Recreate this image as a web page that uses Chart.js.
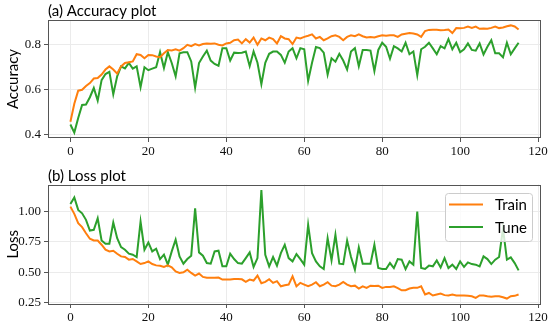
<!DOCTYPE html>
<html>
<head>
<meta charset="utf-8">
<script src="https://cdn.jsdelivr.net/npm/chart.js@4.4.1/dist/chart.umd.min.js"></script>
<style>
  html, body { margin: 0; padding: 0; background: #fff; }
  #wrap { position: relative; width: 550px; height: 324px; }
  .box { position: absolute; left: 0; width: 550px; height: 162px; }
</style>
</head>
<body>
<div id="wrap">
  <div class="box" style="top:0"><canvas id="acc"></canvas></div>
  <div class="box" style="top:162px"><canvas id="loss"></canvas></div>
</div>
<script>
// values, one per epoch
const trainAcc = [
  0.458, 0.538, 0.596, 0.600, 0.617, 0.630, 0.650, 0.652, 0.668, 0.690,
  0.704, 0.690, 0.672, 0.704, 0.719, 0.722, 0.726, 0.758, 0.755, 0.740,
  0.755, 0.754, 0.748, 0.745, 0.762, 0.777, 0.775, 0.780, 0.774, 0.785,
  0.800, 0.794, 0.803, 0.797, 0.803, 0.806, 0.805, 0.806, 0.800, 0.797,
  0.806, 0.809, 0.820, 0.823, 0.806, 0.825, 0.810, 0.832, 0.800, 0.828,
  0.820, 0.832, 0.825, 0.806, 0.838, 0.828, 0.825, 0.803, 0.832, 0.828,
  0.835, 0.840, 0.846, 0.828, 0.835, 0.820, 0.828, 0.838, 0.842, 0.835,
  0.820, 0.835, 0.842, 0.838, 0.846, 0.838, 0.832, 0.834, 0.832, 0.838,
  0.842, 0.840, 0.842, 0.842, 0.835, 0.846, 0.849, 0.852, 0.850, 0.846,
  0.835, 0.861, 0.866, 0.867, 0.867, 0.865, 0.866, 0.868, 0.852, 0.874,
  0.873, 0.875, 0.881, 0.875, 0.881, 0.871, 0.872, 0.871, 0.875, 0.881,
  0.874, 0.877, 0.882, 0.886, 0.881, 0.868
];
const tuneAcc = [
  0.446, 0.410, 0.475, 0.533, 0.535, 0.567, 0.608, 0.552, 0.643, 0.670,
  0.680, 0.580, 0.660, 0.704, 0.695, 0.719, 0.694, 0.704, 0.612, 0.700,
  0.687, 0.694, 0.700, 0.767, 0.697, 0.767, 0.719, 0.660, 0.762, 0.767,
  0.767, 0.726, 0.610, 0.719, 0.748, 0.774, 0.730, 0.715, 0.707, 0.785,
  0.785, 0.730, 0.765, 0.763, 0.765, 0.770, 0.705, 0.770, 0.720, 0.625,
  0.720, 0.760, 0.770, 0.770, 0.755, 0.720, 0.770, 0.785, 0.740, 0.785,
  0.780, 0.640, 0.720, 0.790, 0.785, 0.765, 0.668, 0.740, 0.725, 0.760,
  0.730, 0.690, 0.770, 0.785, 0.705, 0.777, 0.777, 0.774, 0.683, 0.777,
  0.809, 0.791, 0.738, 0.794, 0.784, 0.770, 0.809, 0.758, 0.770, 0.665,
  0.780, 0.791, 0.809, 0.784, 0.758, 0.794, 0.784, 0.825, 0.780, 0.809,
  0.767, 0.780, 0.806, 0.777, 0.774, 0.806, 0.757, 0.791, 0.820, 0.762,
  0.762, 0.744, 0.809, 0.758, 0.784, 0.809
];
const trainLoss = [
  1.041, 0.981, 0.904, 0.872, 0.822, 0.776, 0.762, 0.762, 0.727, 0.686,
  0.672, 0.677, 0.653, 0.631, 0.626, 0.604, 0.610, 0.590, 0.568, 0.576,
  0.590, 0.568, 0.557, 0.554, 0.544, 0.557, 0.541, 0.508, 0.495, 0.500,
  0.522, 0.495, 0.473, 0.490, 0.462, 0.455, 0.455, 0.455, 0.457, 0.440,
  0.440, 0.440, 0.445, 0.445, 0.442, 0.421, 0.440, 0.432, 0.473, 0.410,
  0.421, 0.443, 0.413, 0.427, 0.385, 0.393, 0.399, 0.467, 0.385, 0.413,
  0.399, 0.385, 0.399, 0.418, 0.385, 0.399, 0.418, 0.390, 0.385, 0.399,
  0.421, 0.399, 0.385, 0.390, 0.366, 0.385, 0.372, 0.390, 0.388, 0.390,
  0.372, 0.380, 0.380, 0.385, 0.370, 0.352, 0.352, 0.366, 0.372, 0.372,
  0.385, 0.317, 0.330, 0.309, 0.317, 0.325, 0.312, 0.309, 0.317, 0.309,
  0.309, 0.309, 0.306, 0.303, 0.290, 0.309, 0.309, 0.303, 0.298, 0.303,
  0.303, 0.295, 0.284, 0.303, 0.306, 0.317
];
const tuneLoss = [
  1.063, 1.117, 1.014, 0.986, 0.932, 0.844, 0.850, 0.945, 0.762, 0.735,
  0.735, 0.910, 0.781, 0.708, 0.686, 0.653, 0.645, 0.626, 0.918, 0.686,
  0.746, 0.672, 0.694, 0.609, 0.645, 0.563, 0.672, 0.768, 0.631, 0.571,
  0.609, 0.637, 1.027, 0.664, 0.637, 0.576, 0.571, 0.672, 0.678, 0.549,
  0.549, 0.653, 0.609, 0.576, 0.571, 0.617, 0.664, 0.544, 0.617, 1.178,
  0.645, 0.549, 0.626, 0.555, 0.658, 0.727, 0.617, 0.590, 0.650, 0.609,
  0.563, 0.891, 0.658, 0.590, 0.549, 0.527, 0.781, 0.598, 0.809, 0.571,
  0.568, 0.762, 0.626, 0.522, 0.705, 0.571, 0.571, 0.571, 0.727, 0.535,
  0.527, 0.527, 0.576, 0.535, 0.609, 0.604, 0.527, 0.590, 0.563, 1.000,
  0.535, 0.527, 0.555, 0.549, 0.598, 0.540, 0.617, 0.535, 0.563, 0.527,
  0.590, 0.544, 0.582, 0.568, 0.563, 0.549, 0.631, 0.609, 0.568, 0.604,
  0.626, 0.860, 0.604, 0.623, 0.576, 0.516
];
const epochs = Array.from({ length: trainAcc.length }, (_, i) => i);

const accTicks  = [0.4, 0.6, 0.8];
const lossTicks = [0.25, 0.50, 0.75, 1.00];
const xTicks    = [0, 20, 40, 60, 80, 100, 120];
const seriesNames = ["Train", "Tune"];

const ORANGE = "#ff7f0e";
const GREEN  = "#2ca02c";
const SERIF  = "'Liberation Serif', 'DejaVu Serif', serif";
const SANS   = "Lato, 'DejaVu Sans', sans-serif";

// axes box + panel title, drawn on top of the lines like matplotlib spines
const framePlugin = {
  id: "frame",
  afterDatasetsDraw(chart, args, opts){
    const { ctx, chartArea: a } = chart;
    ctx.save();
    ctx.strokeStyle = "#555";
    ctx.lineWidth = 1;
    ctx.strokeRect(Math.round(a.left) + 0.5, Math.round(a.top) + 0.5,
                   Math.round(a.right - a.left) - 1, Math.round(a.bottom - a.top) - 1);
    ctx.fillStyle = "#000";
    ctx.font = `15px ${SANS}`;
    ctx.textBaseline = "alphabetic";
    ctx.fillText(opts.title, a.left, a.top - 4);
    ctx.restore();
  }
};

// boxed legend inside the plot, upper right
const boxLegend = {
  id: "boxLegend",
  afterDatasetsDraw(chart, args, opts){
    if (!opts.show) return;
    const { ctx, chartArea: a } = chart;
    const w = 87, h = 48;
    const x = a.right - 9 - w, y = a.top + 8.5;
    ctx.save();
    ctx.beginPath();
    ctx.roundRect(x + 0.5, y + 0.5, w, h, 3);
    ctx.fillStyle = "rgba(255,255,255,0.8)";
    ctx.fill();
    ctx.strokeStyle = "#cccccc";
    ctx.lineWidth = 1;
    ctx.stroke();
    ctx.font = `15px ${SANS}`;
    ctx.textBaseline = "middle";
    chart.data.datasets.forEach((ds, k) => {
      const ly = y + 11.5 + k * 22.5;
      ctx.strokeStyle = ds.borderColor;
      ctx.lineWidth = 2;
      ctx.beginPath();
      ctx.moveTo(x + 4, ly);
      ctx.lineTo(x + 38, ly);
      ctx.stroke();
      ctx.fillStyle = "#000";
      ctx.fillText(ds.label, x + 50, ly + 1);
    });
    ctx.restore();
  }
};

function makeChart(id, cfg){
  const grid = { color: "#ebebeb", lineWidth: 1, tickColor: "#555", tickLength: 4 };
  return new Chart(document.getElementById(id), {
    type: "line",
    data: {
      labels: epochs,
      datasets: [
        { label: seriesNames[0], data: cfg.train, borderColor: ORANGE, borderWidth: 2,
          pointRadius: 0, tension: 0, fill: false },
        { label: seriesNames[1], data: cfg.tune, borderColor: GREEN, borderWidth: 2,
          pointRadius: 0, tension: 0, fill: false }
      ]
    },
    options: {
      responsive: true,
      maintainAspectRatio: false,
      animation: false,
      events: [],
      layout: { padding: { left: 0, right: 9, top: cfg.top, bottom: 0 } },
      plugins: {
        legend: { display: false },
        tooltip: { enabled: false },
        frame: { title: cfg.title },
        boxLegend: { show: cfg.legend }
      },
      scales: {
        x: {
          type: "linear",
          min: -5.75, max: 120.75,
          afterBuildTicks: s => { s.ticks = xTicks.map(v => ({ value: v })); },
          afterFit: s => { s.height = cfg.xh; },
          ticks: { font: { family: SERIF, size: 13 }, color: "#111", padding: 2, maxRotation: 0 },
          grid: grid,
          border: { display: false }
        },
        y: {
          min: cfg.ymin, max: cfg.ymax,
          afterBuildTicks: s => { s.ticks = cfg.yTicks.map(v => ({ value: v })); },
          afterFit: s => { s.width = 48; },
          ticks: { font: { family: SERIF, size: 13 }, color: "#111", padding: 3,
                   callback: v => v.toFixed(cfg.dec) },
          grid: grid,
          border: { display: false },
          title: { display: true, text: cfg.ylabel, color: "#000",
                   font: { family: SANS, size: 15 }, padding: { top: 4, bottom: 0 } }
        }
      }
    },
    plugins: [framePlugin, boxLegend]
  });
}

makeChart("acc", {
  train: trainAcc, tune: tuneAcc, title: "(a) Accuracy plot", ylabel: "Accuracy",
  ymin: 0.386, ymax: 0.91, yTicks: accTicks, dec: 1, top: 20, xh: 24, legend: false
});
makeChart("loss", {
  train: trainLoss, tune: tuneLoss, title: "(b) Loss plot", ylabel: "Loss",
  ymin: 0.239, ymax: 1.223, yTicks: lossTicks, dec: 2, top: 22.5, xh: 20, legend: true
});
</script>
</body>
</html>
